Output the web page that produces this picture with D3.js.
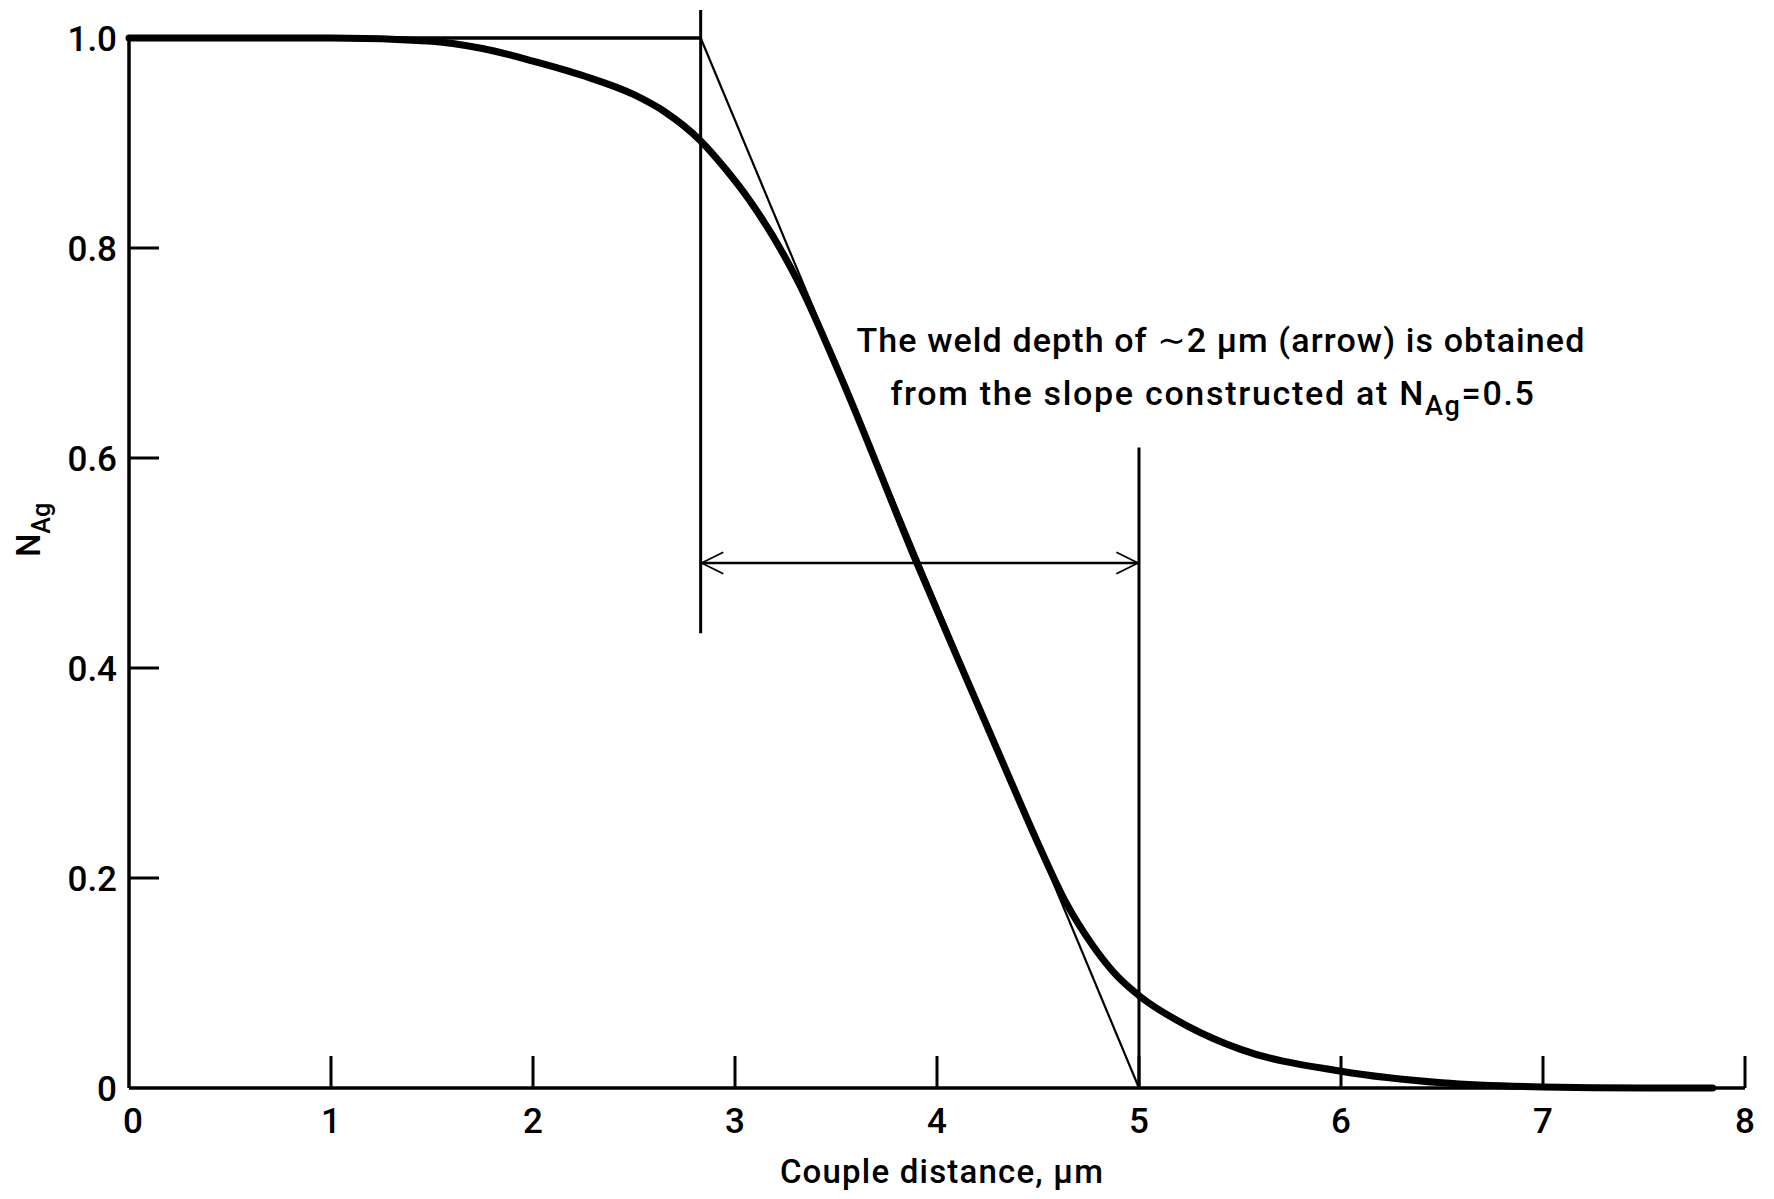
<!DOCTYPE html>
<html>
<head>
<meta charset="utf-8">
<script src="https://cdn.jsdelivr.net/npm/d3@7"></script>
<style>
  html, body { margin: 0; padding: 0; background: #fff; }
  svg text { font-family: Roboto, "DejaVu Sans", sans-serif; font-weight: 500; fill: #000; }
</style>
</head>
<body>
<div id="chart"></div>
<script>
// N_Ag profile across the weld couple

// curve (couple distance in um, atom fraction Ag)
const distance = [0, 0.5, 1.0, 1.5, 1.75, 2.0, 2.25, 2.5, 2.65, 2.83, 2.95, 3.07, 3.32, 3.52, 3.9, 4.15, 4.33, 4.5, 4.64, 4.77, 4.89, 5.0, 5.25, 5.5, 6.0, 6.5, 7.0, 7.5, 7.84];
const nAg = [1.0, 1.0, 1.0, 0.997, 0.99, 0.978, 0.964, 0.946, 0.930, 0.902, 0.876, 0.846, 0.765, 0.679, 0.50, 0.388, 0.308, 0.233, 0.176, 0.136, 0.107, 0.088, 0.058, 0.037, 0.016, 0.005, 0.001, 0, 0];

// slope construction at N_Ag = 0.5
const slopeStart = [2.83, 1.0];
const slopeEnd = [5.0, 0];
const arrowLevel = 0.5;

// axis ticks
const xTicks = [0, 1, 2, 3, 4, 5, 6, 7, 8];
const yTicks = [0, 0.2, 0.4, 0.6, 0.8, 1.0];
const yTickLabels = ["0", "0.2", "0.4", "0.6", "0.8", "1.0"];

const width = 1774;
const height = 1199;

const svg = d3.select("#chart")
  .append("svg")
  .attr("width", width)
  .attr("height", height);

const x = d3.scaleLinear().domain([0, 8]).range([129, 1745]);
const y = d3.scaleLinear().domain([0, 1]).range([1088, 38]);

// arrow marker (open V)
const defs = svg.append("defs");
defs.append("marker")
  .attr("id", "vee")
  .attr("viewBox", "0 0 20 20")
  .attr("refX", 19).attr("refY", 10)
  .attr("markerWidth", 42).attr("markerHeight", 24)
  .attr("markerUnits", "userSpaceOnUse")
  .attr("orient", "auto-start-reverse")
  .append("path")
  .attr("d", "M1,1 L19,10 L1,19")
  .attr("fill", "none")
  .attr("stroke", "#000")
  .attr("stroke-width", 1.5);

// axes: left and bottom lines, ticks pointing inward
const axisColor = "#000";

svg.append("line")
  .attr("x1", x(0)).attr("x2", x(0))
  .attr("y1", y(1)).attr("y2", y(0))
  .attr("stroke", axisColor).attr("stroke-width", 3.5);

svg.append("line")
  .attr("x1", x(0)).attr("x2", x(8))
  .attr("y1", y(0)).attr("y2", y(0))
  .attr("stroke", axisColor).attr("stroke-width", 3.5);

// y ticks (inside, to the right)
svg.append("g")
  .selectAll("line")
  .data(yTicks.filter(d => d > 0 && d < 1))
  .enter().append("line")
  .attr("x1", x(0)).attr("x2", x(0) + 30)
  .attr("y1", d => y(d)).attr("y2", d => y(d))
  .attr("stroke", axisColor).attr("stroke-width", 3);

svg.append("g")
  .selectAll("text")
  .data(yTicks)
  .enter().append("text")
  .attr("x", x(0) - 12)
  .attr("y", d => y(d))
  .attr("dy", "0.36em")
  .attr("text-anchor", "end")
  .style("font-size", "35px")
  .text((d, i) => yTickLabels[i]);

// x ticks (inside, pointing up)
svg.append("g")
  .selectAll("line")
  .data(xTicks.filter(d => d > 0))
  .enter().append("line")
  .attr("x1", d => x(d)).attr("x2", d => x(d))
  .attr("y1", y(0)).attr("y2", y(0) - 32)
  .attr("stroke", axisColor).attr("stroke-width", 3);

svg.append("g")
  .selectAll("text")
  .data(xTicks)
  .enter().append("text")
  .attr("x", d => x(d) + (d === 0 ? 4 : 0))
  .attr("y", y(0) + 32)
  .attr("dy", "0.36em")
  .attr("text-anchor", "middle")
  .style("font-size", "35px")
  .text(d => d);

// axis titles
svg.append("text")
  .attr("x", 942)
  .attr("y", 1171)
  .attr("dy", "0.36em")
  .attr("text-anchor", "middle")
  .style("font-size", "33px")
  .style("letter-spacing", "1.2px")
  .text("Couple distance, \u03bcm");

const yTitle = svg.append("text")
  .attr("transform", "translate(40, 530) rotate(-90)")
  .attr("text-anchor", "middle")
  .style("font-size", "33px");
yTitle.append("tspan").text("N");
yTitle.append("tspan").attr("dy", 10).style("font-size", "25px").text("Ag");

// construction lines
svg.append("line") // horizontal at N_Ag = 1
  .attr("x1", x(0)).attr("x2", x(slopeStart[0]))
  .attr("y1", y(1)).attr("y2", y(1))
  .attr("stroke", "#000").attr("stroke-width", 3.5);

svg.append("line") // vertical through slope start
  .attr("x1", x(slopeStart[0])).attr("x2", x(slopeStart[0]))
  .attr("y1", 10).attr("y2", y(0.433))
  .attr("stroke", "#000").attr("stroke-width", 3);

svg.append("line") // vertical through slope end
  .attr("x1", x(slopeEnd[0])).attr("x2", x(slopeEnd[0]))
  .attr("y1", y(0.61)).attr("y2", y(0))
  .attr("stroke", "#000").attr("stroke-width", 3);

svg.append("line") // tangent at N_Ag = 0.5
  .attr("x1", x(slopeStart[0])).attr("y1", y(slopeStart[1]))
  .attr("x2", x(slopeEnd[0])).attr("y2", y(slopeEnd[1]))
  .attr("stroke", "#000").attr("stroke-width", 2.2);

svg.append("line") // weld depth arrow
  .attr("x1", x(slopeStart[0]) + 1).attr("x2", x(slopeEnd[0]) - 1)
  .attr("y1", y(arrowLevel)).attr("y2", y(arrowLevel))
  .attr("stroke", "#000").attr("stroke-width", 2.5)
  .attr("marker-start", "url(#vee)")
  .attr("marker-end", "url(#vee)");

// profile curve
const line = d3.line()
  .x((d, i) => x(distance[i]))
  .y(d => y(d))
  .curve(d3.curveMonotoneX);

svg.append("path")
  .datum(nAg)
  .attr("d", line)
  .attr("fill", "none")
  .attr("stroke", "#000")
  .attr("stroke-width", 7)
  .attr("stroke-linecap", "round");

// annotation
svg.append("text")
  .attr("x", 1221)
  .attr("y", 340)
  .attr("dy", "0.36em")
  .attr("text-anchor", "middle")
  .style("font-size", "34px")
  .style("letter-spacing", "1.1px")
  .text("The weld depth of \u223c2 \u03bcm (arrow) is obtained");

const note2 = svg.append("text")
  .attr("x", 1213)
  .attr("y", 393)
  .attr("dy", "0.36em")
  .attr("text-anchor", "middle")
  .style("font-size", "34px")
  .style("letter-spacing", "1.7px");
note2.append("tspan").text("from the slope constructed at N");
note2.append("tspan").attr("dy", 10).style("font-size", "27px").text("Ag");
note2.append("tspan").attr("dy", -10).text("=0.5");
</script>
</body>
</html>
